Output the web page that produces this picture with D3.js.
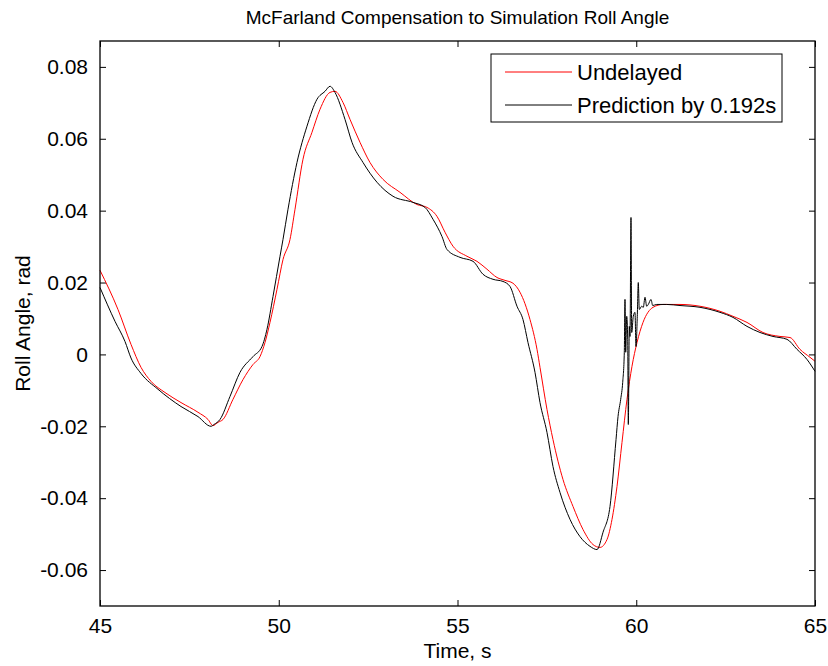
<!DOCTYPE html>
<html>
<head>
<meta charset="utf-8">
<script src="https://cdn.jsdelivr.net/npm/d3@7"></script>
<style>
    body { margin: 0; background: #fff; }
    svg text { font-family: "Liberation Sans", Arial, sans-serif; fill: #000; }
</style>
</head>
<body>
<svg id="chart" width="828" height="666"></svg>
<script>
// time (s) and roll angle (rad)
const undelayedT = [45.000, 45.503, 45.867, 46.147, 46.427, 46.818, 47.266, 47.741, 48.021, 48.161,
    48.301, 48.441, 48.720, 49.000, 49.280, 49.476, 49.615, 49.755, 49.951, 50.119,
    50.315, 50.455, 50.678, 50.930, 51.154, 51.434, 51.573, 51.797, 51.993, 52.273,
    52.552, 52.916, 53.392, 53.867, 54.147, 54.427, 54.650, 54.874, 55.266, 55.545,
    55.825, 56.105, 56.329, 56.552, 56.748, 57.028, 57.224, 57.308, 57.503, 57.671,
    57.951, 58.231, 58.510, 58.790, 58.986, 59.182, 59.322, 59.462, 59.601, 59.741,
    59.881, 60.021, 60.189, 60.469, 60.748, 61.224, 61.783, 62.343, 62.706, 63.098,
    63.545, 64.021, 64.301, 64.580, 64.860, 65.000];
const undelayedY = [0.0234, 0.0125, 0.0028, -0.0036, -0.0075, -0.0106, -0.0134, -0.0161, -0.0181, -0.0198,
    -0.0189, -0.0181, -0.0125, -0.0070, -0.0028, -0.0006, 0.0033, 0.0089, 0.0181, 0.0264,
    0.0320, 0.0404, 0.0543, 0.0618, 0.0682, 0.0729, 0.0732, 0.0701, 0.0654, 0.0590,
    0.0534, 0.0487, 0.0451, 0.0417, 0.0409, 0.0384, 0.0340, 0.0301, 0.0273, 0.0259,
    0.0237, 0.0214, 0.0206, 0.0198, 0.0173, 0.0097, 0.0014, -0.0036, -0.0153, -0.0237,
    -0.0348, -0.0423, -0.0487, -0.0529, -0.0537, -0.0515, -0.0459, -0.0367, -0.0245, -0.0125,
    -0.0033, 0.0033, 0.0089, 0.0131, 0.0139, 0.0139, 0.0134, 0.0120, 0.0106, 0.0089,
    0.0061, 0.0050, 0.0047, 0.0014, -0.0008, -0.0019];

const predictedT = [45.000, 45.420, 45.699, 45.867, 46.147, 46.622, 47.266, 47.741, 48.105, 48.189,
    48.357, 48.636, 48.916, 49.280, 49.531, 49.671, 49.839, 50.035, 50.119, 50.259,
    50.510, 50.790, 51.070, 51.294, 51.434, 51.573, 51.853, 52.049, 52.357, 52.748,
    53.196, 53.755, 54.091, 54.315, 54.566, 54.706, 55.070, 55.434, 55.713, 55.993,
    56.273, 56.469, 56.664, 56.832, 56.972, 57.168, 57.308, 57.503, 57.671, 57.867,
    58.147, 58.427, 58.706, 58.902, 59.070, 59.266, 59.434, 59.490, 59.565, 59.621,
    59.666, 59.685, 59.705, 59.733, 59.761, 59.778, 59.806, 59.825, 59.853, 59.873,
    59.917, 59.965, 59.993, 60.029, 60.057, 60.085, 60.152, 60.197, 60.245, 60.292,
    60.337, 60.413, 60.460, 60.572, 60.852, 61.224, 61.783, 62.343, 62.706, 63.098,
    63.462, 63.825, 64.217, 64.497, 64.776, 65.000];
const predictedY = [0.0186, 0.0092, 0.0036, -0.0010, -0.0053, -0.0097, -0.0145, -0.0173, -0.0200, -0.0195,
    -0.0181, -0.0117, -0.0050, -0.0006, 0.0022, 0.0070, 0.0161, 0.0273, 0.0320, 0.0404,
    0.0534, 0.0635, 0.0710, 0.0732, 0.0746, 0.0729, 0.0654, 0.0590, 0.0534, 0.0479,
    0.0440, 0.0423, 0.0409, 0.0376, 0.0328, 0.0292, 0.0270, 0.0259, 0.0223, 0.0209,
    0.0203, 0.0189, 0.0134, 0.0097, 0.0033, -0.0050, -0.0134, -0.0217, -0.0312, -0.0384,
    -0.0459, -0.0507, -0.0534, -0.0543, -0.0495, -0.0423, -0.0237, -0.0173, -0.0125, -0.0078,
    0.0006, 0.0153, 0.0006, 0.0106, 0.0042, -0.0195, 0.0078, 0.0050, 0.0381, 0.0061,
    0.0106, 0.0117, 0.0022, 0.0106, 0.0200, 0.0125, 0.0134, 0.0131, 0.0159, 0.0134,
    0.0139, 0.0153, 0.0136, 0.0139, 0.0139, 0.0136, 0.0131, 0.0117, 0.0103, 0.0078,
    0.0061, 0.0050, 0.0042, 0.0014, -0.0014, -0.0047];

const xTicks = [45, 50, 55, 60, 65];
const yTicks = [-0.06, -0.04, -0.02, 0, 0.02, 0.04, 0.06, 0.08];
const seriesNames = ["Undelayed", "Prediction by 0.192s"];
const seriesColors = ["#ff0000", "#000000"];

const box = {left: 100, right: 815, top: 41, bottom: 606};
const svg = d3.select("#chart");

const x = d3.scaleLinear().domain([45, 65]).range([box.left, box.right]);
const y = d3.scaleLinear().domain([-0.07, 0.0872]).range([box.bottom, box.top]);

// plain hyphen like matlab, not the unicode minus d3 uses
const fmt = d => d === 0 ? "0" : d.toFixed(2);

// ticks inside the box on all four sides, matlab style
const tickLen = 6;
const axisStyle = g => {
    g.select(".domain").remove();
    g.selectAll(".tick line").attr("stroke", "#000").attr("stroke-width", 1);
    g.selectAll(".tick text").attr("font-size", 21);
};
svg.append("g").attr("transform", `translate(0,${box.bottom})`)
    .call(d3.axisBottom(x).tickValues(xTicks).tickSize(-tickLen).tickPadding(12).tickFormat(d3.format("d")))
    .call(axisStyle);
svg.append("g").attr("transform", `translate(0,${box.top})`)
    .call(d3.axisTop(x).tickValues(xTicks).tickSize(-tickLen).tickFormat(""))
    .call(axisStyle);
svg.append("g").attr("transform", `translate(${box.left},0)`)
    .call(d3.axisLeft(y).tickValues(yTicks).tickSize(-tickLen).tickPadding(12).tickFormat(fmt))
    .call(axisStyle);
svg.append("g").attr("transform", `translate(${box.right},0)`)
    .call(d3.axisRight(y).tickValues(yTicks).tickSize(-tickLen).tickFormat(""))
    .call(axisStyle);

const line = d3.line().curve(d3.curveMonotoneX).x(d => x(d[0])).y(d => y(d[1]));
const series = [
    d3.zip(undelayedT, undelayedY),
    d3.zip(predictedT, predictedY)
];
series.forEach((pts, i) => {
    svg.append("path").datum(pts)
        .attr("d", line)
        .attr("fill", "none")
        .attr("stroke", seriesColors[i])
        .attr("stroke-width", 1);
});

svg.append("rect")
    .attr("x", box.left).attr("y", box.top)
    .attr("width", box.right - box.left).attr("height", box.bottom - box.top)
    .attr("fill", "none").attr("stroke", "#000").attr("stroke-width", 1.3);

// title and labels
svg.append("text").attr("x", (box.left + box.right) / 2).attr("y", 24)
    .attr("text-anchor", "middle").attr("font-size", 19)
    .text("McFarland Compensation to Simulation Roll Angle");
svg.append("text").attr("x", (box.left + box.right) / 2).attr("y", 658)
    .attr("text-anchor", "middle").attr("font-size", 21)
    .text("Time, s");
svg.append("text")
    .attr("transform", `translate(30,${(box.top + box.bottom) / 2}) rotate(-90)`)
    .attr("text-anchor", "middle").attr("font-size", 21)
    .text("Roll Angle, rad");

// legend
const legend = svg.append("g");
legend.append("rect")
    .attr("x", 491).attr("y", 54).attr("width", 291).attr("height", 68)
    .attr("fill", "#fff").attr("stroke", "#000").attr("stroke-width", 1);
seriesNames.forEach((name, i) => {
    const ly = 72 + i * 33;
    legend.append("line")
        .attr("x1", 505).attr("x2", 572).attr("y1", ly).attr("y2", ly)
        .attr("stroke", seriesColors[i]).attr("stroke-width", 1);
    legend.append("text")
        .attr("x", 577).attr("y", ly + 7.5).attr("font-size", 22)
        .text(name);
});
</script>
</body>
</html>
